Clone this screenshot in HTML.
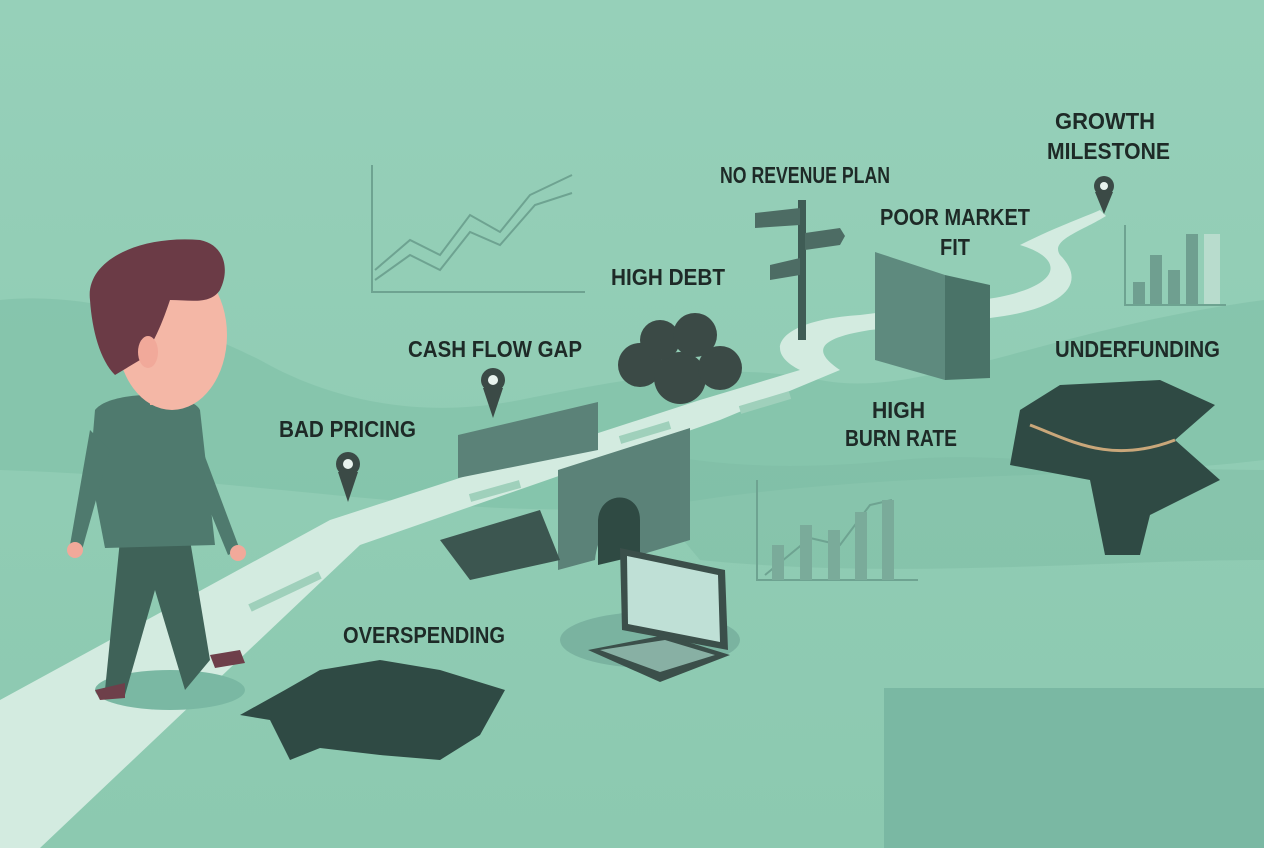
<!DOCTYPE html>
<html><head><meta charset="utf-8"><style>
html,body{margin:0;padding:0;width:1264px;height:848px;overflow:hidden;background:#8fcbb3}
svg{display:block}
text{font-family:"Liberation Sans",Arial,sans-serif;font-weight:bold;fill:#1e2a27;font-size:23px}
</style></head><body>
<svg width="1264" height="848" viewBox="0 0 1264 848">
<defs><linearGradient id="bg" x1="0" y1="0" x2="0" y2="1"><stop offset="0" stop-color="#96d0b9"/><stop offset="1" stop-color="#8cc9b0"/></linearGradient></defs>
<rect width="1264" height="848" fill="url(#bg)"/>
<path d="M0 300 C100 290 200 330 260 360 C330 400 420 420 520 400 C620 380 720 360 820 380 C920 400 1040 330 1264 300 L1264 460 C1100 480 900 470 700 500 C500 530 300 480 0 470 Z" fill="#7fbfa6" opacity="0.6"/>
<path d="M600 440 C700 470 800 470 900 460 C1000 450 1100 470 1264 470 L1264 560 C1100 560 900 580 700 560 Z" fill="#7dbca3" opacity="0.5"/>
<rect x="884" y="688" width="380" height="160" fill="#7ab8a3"/>
<path d="M0 700 L330 520 L700 400 L800 370 C760 350 780 320 860 315 L980 300 C1060 290 1070 260 1020 245 C1060 225 1090 215 1100 210 L1106 216 C1080 232 1050 240 1060 255 C1090 285 1060 310 990 318 L870 330 C820 338 810 350 840 370 L720 420 L360 545 L40 848 L0 848 Z" fill="#d3ebe0"/>
<g stroke="#9fd0bb" stroke-width="8" fill="none"><path d="M250 608 L320 575"/><path d="M470 498 L520 484"/><path d="M620 440 L670 425"/><path d="M740 410 L790 395"/></g>
<g stroke="#6ea391" stroke-width="2" fill="none"><path d="M372 165 V292 H585"/><path d="M375 270 L410 240 L440 255 L470 215 L500 232 L530 195 L572 175"/><path d="M375 280 L410 255 L440 270 L470 232 L500 245 L535 205 L572 193"/></g>
<rect x="798" y="200" width="8" height="140" fill="#3f5c55"/>
<path d="M755 213 L800 208 L800 225 L755 228 Z" fill="#4d6c64"/><path d="M805 233 L840 228 L845 236 L840 245 L805 250 Z" fill="#4d6c64"/><path d="M770 265 L800 258 L800 275 L770 280 Z" fill="#4d6c64"/>
<path d="M875 252 L945 275 L945 380 L875 360 Z" fill="#5e8a7e"/><path d="M945 275 L990 285 L990 378 L945 380 Z" fill="#4a7368"/>
<g fill="#3b4a46"><circle cx="640" cy="365" r="22"/><circle cx="680" cy="378" r="26"/><circle cx="720" cy="368" r="22"/><circle cx="660" cy="340" r="20"/><circle cx="695" cy="335" r="22"/></g>
<path d="M458 435 L598 402 L598 450 L458 478 Z" fill="#5b8278"/><path d="M558 470 L690 428 L690 540 L640 555 C640 520 600 510 595 560 L558 570 Z" fill="#5b8278"/><path d="M598 520 C600 490 640 490 640 520 L640 555 L598 565 Z" fill="#2f4a43"/>
<path d="M440 540 L540 510 L560 560 L470 580 Z" fill="#3c5650"/>
<g fill="#3b4a46"><circle cx="348" cy="464" r="12"/><path d="M338 472 L348 502 L358 472 Z"/><circle cx="493" cy="380" r="12"/><path d="M483 388 L493 418 L503 388 Z"/><circle cx="1104" cy="186" r="10"/><path d="M1095 192 L1104 214 L1113 192Z"/></g>
<g fill="#e8f3ee"><circle cx="348" cy="464" r="5"/><circle cx="493" cy="380" r="5"/><circle cx="1104" cy="186" r="4"/></g>
<g><path d="M1125 225 V305 H1226" stroke="#6ea391" stroke-width="2" fill="none"/><rect x="1133" y="282" width="12" height="22" fill="#6f9f90"/><rect x="1150" y="255" width="12" height="49" fill="#6f9f90"/><rect x="1168" y="270" width="12" height="34" fill="#6f9f90"/><rect x="1186" y="234" width="12" height="70" fill="#6f9f90"/><rect x="1204" y="234" width="16" height="70" fill="#b8dccd"/></g>
<g stroke="#6ea391" stroke-width="2" fill="none"><path d="M757 480 V580 H918"/><path d="M765 575 L810 538 L840 545 L870 505 L892 500"/></g>
<g fill="#7aab9a"><rect x="772" y="545" width="12" height="35"/><rect x="800" y="525" width="12" height="55"/><rect x="828" y="530" width="12" height="50"/><rect x="855" y="512" width="12" height="68"/><rect x="882" y="500" width="12" height="80"/></g>
<path d="M1020 410 L1060 385 L1160 380 L1215 405 L1175 440 L1220 480 L1150 515 L1140 555 L1105 555 L1090 480 L1010 465 Z" fill="#2f4a44"/>
<path d="M1030 425 C1070 440 1110 465 1175 440" stroke="#c9a77a" stroke-width="3" fill="none"/>
<ellipse cx="650" cy="640" rx="90" ry="28" fill="#7ab3a0"/>
<path d="M620 548 L725 570 L728 650 L622 630 Z" fill="#3b4f4a"/><path d="M627 556 L718 575 L720 642 L628 624 Z" fill="#bfe0d6"/>
<path d="M588 650 L665 635 L730 655 L660 682 Z" fill="#3b4f4a"/><path d="M600 650 L665 640 L715 655 L660 672 Z" fill="#88b0a4"/>
<path d="M240 715 L285 690 L320 670 L380 660 L440 670 L505 690 L480 735 L440 760 L380 755 L320 748 L290 760 L270 720 Z" fill="#2f4a44"/>
<ellipse cx="170" cy="690" rx="75" ry="20" fill="#7ab8a3"/>
<path d="M120 540 L105 690 L125 695 L155 590 L185 690 L210 660 L190 540 Z" fill="#3f6258"/>
<path d="M95 690 L125 683 L125 698 L100 700 Z" fill="#6e3f4a"/><path d="M210 655 L240 650 L245 663 L215 668 Z" fill="#6e3f4a"/>
<path d="M95 410 C110 390 190 390 200 410 L215 545 L105 548 L90 470 Z" fill="#4f7a6e"/>
<path d="M90 430 L70 545 L82 550 L110 450 Z" fill="#4f7a6e"/><path d="M195 430 L240 550 L228 555 L185 450 Z" fill="#4f7a6e"/>
<circle cx="75" cy="550" r="8" fill="#f1a99a"/><circle cx="238" cy="553" r="8" fill="#f1a99a"/>
<rect x="150" y="370" width="30" height="35" fill="#f1a99a"/>
<ellipse cx="172" cy="335" rx="55" ry="75" fill="#f4b7a6"/>
<path d="M90 300 C85 260 140 235 200 240 C225 245 230 270 220 290 C210 305 190 300 170 300 C160 330 150 350 140 360 L115 375 C100 360 92 330 90 300 Z" fill="#6b3b46"/>
<ellipse cx="148" cy="352" rx="10" ry="16" fill="#f1a99a"/>
<text x="720" y="183" font-size="21" textLength="170" lengthAdjust="spacingAndGlyphs">NO REVENUE PLAN</text>
<text x="1055" y="129" textLength="100" lengthAdjust="spacingAndGlyphs">GROWTH</text><text x="1047" y="159" textLength="123" lengthAdjust="spacingAndGlyphs">MILESTONE</text>
<text x="880" y="225" textLength="150" lengthAdjust="spacingAndGlyphs">POOR MARKET</text><text x="940" y="255" textLength="30" lengthAdjust="spacingAndGlyphs">FIT</text>
<text x="611" y="285" textLength="114" lengthAdjust="spacingAndGlyphs">HIGH DEBT</text>
<text x="1055" y="357" textLength="165" lengthAdjust="spacingAndGlyphs">UNDERFUNDING</text>
<text x="408" y="357" textLength="174" lengthAdjust="spacingAndGlyphs">CASH FLOW GAP</text>
<text x="872" y="418" textLength="53" lengthAdjust="spacingAndGlyphs">HIGH</text><text x="845" y="446" textLength="112" lengthAdjust="spacingAndGlyphs">BURN RATE</text>
<text x="279" y="437" textLength="137" lengthAdjust="spacingAndGlyphs">BAD PRICING</text>
<text x="343" y="643" textLength="162" lengthAdjust="spacingAndGlyphs">OVERSPENDING</text>
</svg>
</body></html>
